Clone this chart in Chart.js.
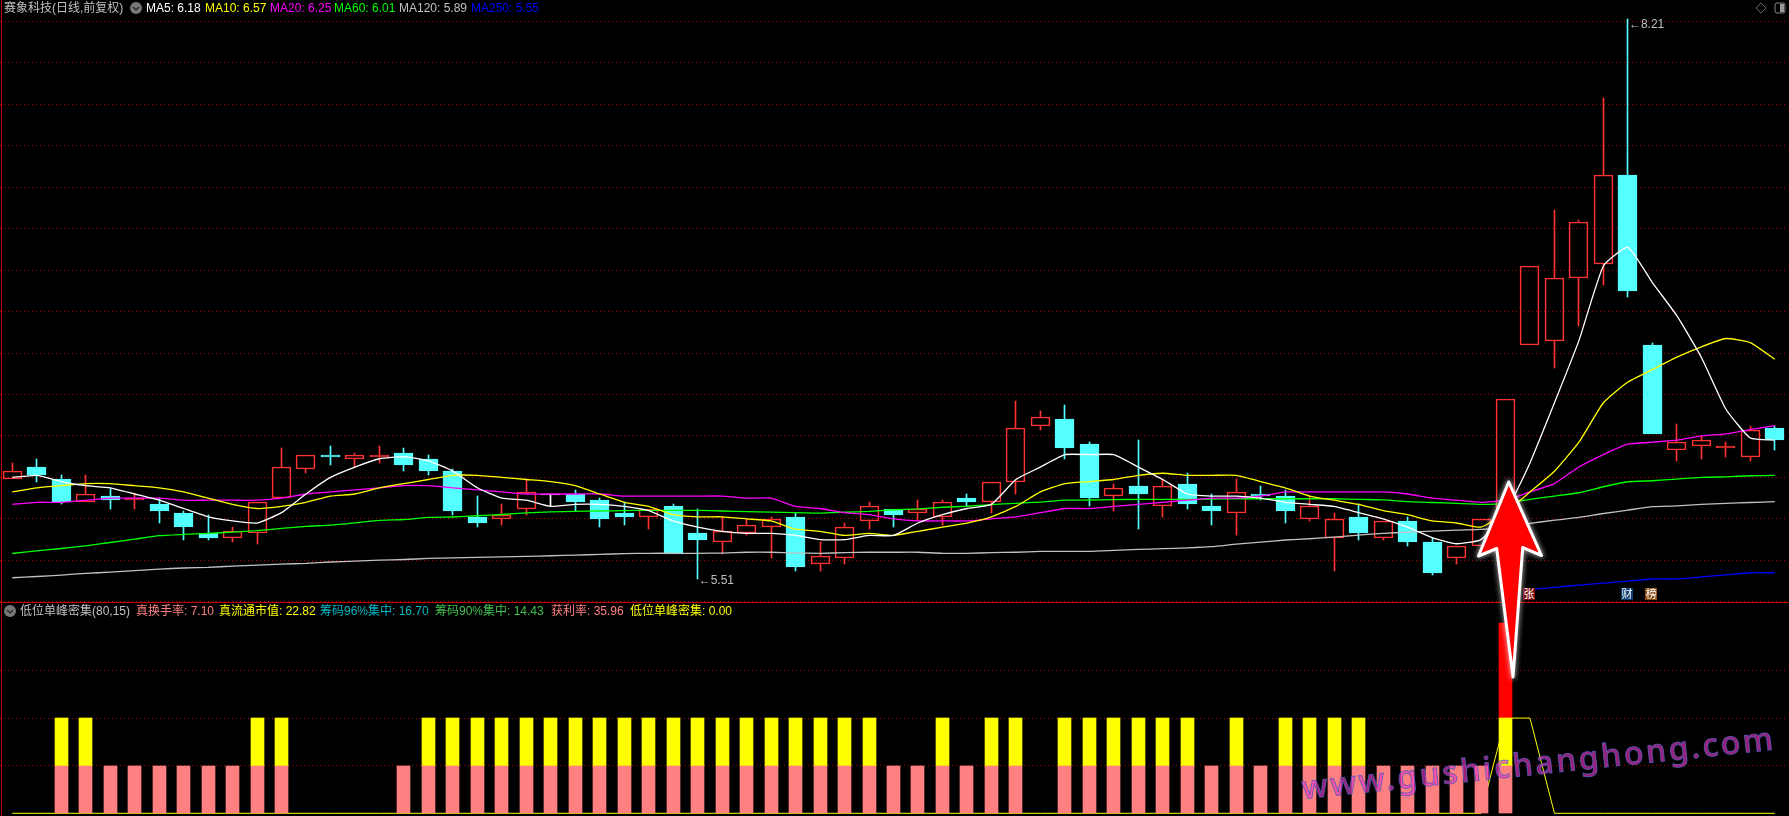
<!DOCTYPE html>
<html>
<head>
<meta charset="utf-8">
<title>赛象科技</title>
<script src="https://cdn.jsdelivr.net/npm/chart.js@4/dist/chart.umd.min.js"></script>
<style>
html, body { margin: 0; padding: 0; background: #000; width: 1789px; height: 816px; overflow: hidden; }
#stage { position: relative; width: 1789px; height: 816px; overflow: hidden; background: #000; font: 12px "Liberation Sans", "Noto Sans CJK SC", sans-serif; }
#priceCanvas { position: absolute; left: 0; top: 0; }
#signalCanvas { position: absolute; left: 0; top: 602px; }
.t { position: absolute; white-space: nowrap; line-height: 14px; height: 14px; }
.badge { position: absolute; width: 12px; height: 12px; line-height: 12px; font-size: 11px; text-align: center; color: #fff; }
.rule { position: absolute; background: #c00000; }
#overlay { position: absolute; left: 0; top: 0; pointer-events: none; }
#watermark { position: absolute; left: 1304px; top: 765px; font: 500 32px "Noto Sans", sans-serif; letter-spacing: 2.7px; white-space: nowrap;
    color: rgba(255, 50, 190, .62); -webkit-text-stroke: 1px rgba(85, 90, 190, .85);
    transform: rotate(-6deg); transform-origin: left bottom; }
</style>
</head>
<body>
<div id="stage">
    <canvas id="priceCanvas" width="1789" height="602"></canvas>
    <canvas id="signalCanvas" width="1789" height="214"></canvas>
    <div class="rule" style="left:1px;top:0;width:1px;height:816px"></div>
    <div class="rule" style="left:0;top:602px;width:1789px;height:1px"></div>

    <span class="t" style="left:4px;top:1px;color:#c0c0c0">赛象科技(日线,前复权)</span>
    <span class="t" style="left:146px;top:1px;color:#ffffff">MA5: 6.18</span>
    <span class="t" style="left:205px;top:1px;color:#ffff00">MA10: 6.57</span>
    <span class="t" style="left:270px;top:1px;color:#ff00ff">MA20: 6.25</span>
    <span class="t" style="left:334px;top:1px;color:#00ff00">MA60: 6.01</span>
    <span class="t" style="left:399px;top:1px;color:#c0c0c0">MA120: 5.89</span>
    <span class="t" style="left:471px;top:1px;color:#0000ff">MA250: 5.55</span>

    <span class="t" style="left:20px;top:604px;color:#c0c0c0">低位单峰密集(80,15)</span>
    <span class="t" style="left:136px;top:604px;color:#ff8080">真换手率: 7.10</span>
    <span class="t" style="left:219px;top:604px;color:#ffff00">真流通市值: 22.82</span>
    <span class="t" style="left:320px;top:604px;color:#00b8c8">筹码96%集中: 16.70</span>
    <span class="t" style="left:435px;top:604px;color:#40c050">筹码90%集中: 14.43</span>
    <span class="t" style="left:551px;top:604px;color:#ff8080">获利率: 35.96</span>
    <span class="t" style="left:630px;top:604px;color:#ffff00">低位单峰密集: 0.00</span>

    <span class="t" id="highMark" style="color:#c0c0c0"></span>
    <span class="t" id="lowMark" style="color:#c0c0c0"></span>
    <span class="badge" id="badgeZhang" style="background:#7a0808">张</span>
    <span class="badge" id="badgeCai" style="background:#0c3c70">财</span>
    <span class="badge" id="badgeBang" style="background:#8a4c10">榜</span>

    <svg id="overlay" width="1789" height="816">
        <defs>
            <filter id="glow" x="-30%" y="-30%" width="160%" height="160%">
                <feGaussianBlur stdDeviation="2.5"/>
            </filter>
        </defs>
        <circle cx="136" cy="8" r="6" fill="#777"/>
        <path d="M133 7 L136 10 L139 7" stroke="#222" stroke-width="1.2" fill="none"/>
        <circle cx="10" cy="611" r="6" fill="#777"/>
        <path d="M7 610 L10 613 L13 610" stroke="#222" stroke-width="1.2" fill="none"/>
        <path d="M1761 3 L1766 8 L1761 13 L1756 8 Z" stroke="#666" fill="none"/>
        <rect x="1775" y="3" width="10" height="10" rx="2" stroke="#888" fill="none"/>
        <rect x="1780" y="4" width="4" height="8" fill="#999"/>
        <polygon points="1508.7,482 1541.5,555.5 1522.7,547.5 1513,677 1496.7,548.5 1478.5,556" fill="#fff" stroke="#fff" stroke-width="5" stroke-linejoin="round" filter="url(#glow)" opacity=".55"/>
        <polygon points="1508.7,482 1541.5,555.5 1522.7,547.5 1513,677 1496.7,548.5 1478.5,556" fill="#ff0000" stroke="#ffffff" stroke-width="3" stroke-linejoin="round"/>
    </svg>

    <div id="watermark">www.gushichanghong.com</div>
</div>

<script>
// 日线 K 线
const opens = [
    5.99,6.05,5.99,5.88,5.91,5.89,5.87,5.83,5.73,5.71,
    5.73,5.90,6.04,6.11,6.09,6.10,6.12,6.09,6.03,5.81,
    5.80,5.85,5.92,5.92,5.89,5.83,5.81,5.86,5.73,5.69,
    5.73,5.76,5.81,5.58,5.61,5.79,5.85,5.83,5.81,5.90,
    5.88,5.98,6.25,6.28,6.16,5.91,5.96,5.86,5.97,5.86,
    5.83,5.92,5.91,5.80,5.71,5.81,5.71,5.79,5.69,5.61,
    5.67,5.80,6.64,6.66,6.96,7.03,7.46,6.64,6.13,6.15,
    6.14,6.10,6.24
];
const closes = [
    6.03,6.01,5.88,5.92,5.89,5.90,5.84,5.76,5.71,5.74,
    5.88,6.05,6.11,6.10,6.11,6.11,6.06,6.03,5.84,5.78,
    5.82,5.93,5.92,5.88,5.80,5.81,5.85,5.63,5.70,5.74,
    5.77,5.80,5.57,5.62,5.76,5.86,5.82,5.85,5.88,5.88,
    5.98,6.24,6.29,6.14,5.90,5.95,5.92,5.96,5.87,5.84,
    5.93,5.91,5.84,5.86,5.80,5.73,5.79,5.69,5.54,5.67,
    5.80,6.38,7.02,6.96,7.23,7.46,6.90,6.21,6.17,6.18,
    6.15,6.23,6.18
];
const highs = [
    6.07,6.09,6.01,6.01,5.95,5.92,5.90,5.84,5.82,5.76,
    5.88,6.14,6.11,6.15,6.12,6.15,6.14,6.11,6.04,5.91,
    5.87,5.99,5.92,5.94,5.90,5.88,5.85,5.87,5.85,5.81,
    5.80,5.81,5.83,5.69,5.78,5.88,5.85,5.89,5.89,5.92,
    5.98,6.37,6.32,6.35,6.17,5.97,6.18,5.99,6.02,5.92,
    5.99,5.96,5.94,5.91,5.83,5.87,5.79,5.81,5.71,5.67,
    5.80,6.38,7.02,7.29,7.24,7.83,8.21,6.65,6.26,6.20,
    6.17,6.25,6.25
];
const lows = [
    5.99,5.98,5.87,5.88,5.85,5.85,5.78,5.70,5.70,5.69,
    5.68,5.90,6.02,6.06,6.05,6.07,6.03,6.01,5.82,5.76,
    5.77,5.82,5.86,5.84,5.76,5.77,5.75,5.63,5.51,5.63,
    5.72,5.61,5.55,5.55,5.58,5.75,5.76,5.79,5.77,5.86,
    5.83,5.92,6.23,6.09,5.86,5.84,5.75,5.81,5.85,5.77,
    5.72,5.89,5.78,5.79,5.55,5.70,5.70,5.67,5.53,5.58,
    5.67,5.80,6.64,6.53,6.73,6.93,6.87,6.21,6.08,6.09,
    6.10,6.08,6.13
];

// 均线
const ma5 = [
    6.00,6.01,5.98,5.96,5.95,5.92,5.89,5.85,5.81,5.79,
    5.78,5.83,5.92,6.00,6.05,6.09,6.10,6.08,6.03,5.95,
    5.90,5.89,5.86,5.87,5.87,5.86,5.84,5.79,5.76,5.74,
    5.73,5.73,5.72,5.70,5.70,5.72,5.72,5.78,5.82,5.85,
    5.87,5.99,6.05,6.11,6.11,6.11,6.05,5.99,5.92,5.91,
    5.91,5.90,5.88,5.87,5.86,5.83,5.80,5.76,5.71,5.68,
    5.70,5.83,6.07,6.36,6.66,7.02,7.11,6.94,6.78,6.58,
    6.33,6.19,6.18
];
const ma10 = [
    5.93,5.95,5.96,5.97,5.97,5.96,5.95,5.93,5.90,5.87,
    5.85,5.86,5.88,5.91,5.92,5.95,5.97,5.99,6.01,6.01,
    6.00,5.99,5.98,5.96,5.92,5.88,5.86,5.82,5.81,5.81,
    5.80,5.79,5.75,5.74,5.72,5.73,5.72,5.74,5.76,5.78,
    5.81,5.86,5.93,5.97,5.98,5.99,6.01,6.02,6.01,6.01,
    6.01,5.98,5.95,5.91,5.89,5.87,5.84,5.82,5.79,5.78,
    5.76,5.83,5.93,6.03,6.17,6.36,6.46,6.52,6.58,6.63,
    6.67,6.65,6.57
];
const ma20 = [
    5.87,5.88,5.88,5.89,5.90,5.90,5.90,5.89,5.89,5.89,
    5.89,5.90,5.92,5.93,5.94,5.95,5.96,5.96,5.95,5.94,
    5.93,5.92,5.92,5.92,5.92,5.91,5.91,5.91,5.91,5.91,
    5.90,5.90,5.86,5.85,5.83,5.82,5.80,5.79,5.79,5.79,
    5.80,5.81,5.83,5.85,5.85,5.86,5.87,5.88,5.89,5.90,
    5.90,5.91,5.93,5.93,5.93,5.93,5.93,5.92,5.90,5.89,
    5.88,5.89,5.93,5.97,6.05,6.11,6.16,6.17,6.18,6.20,
    6.21,6.23,6.25
];
const ma60 = [
    5.633,5.646,5.657,5.670,5.686,5.702,5.719,5.725,5.730,5.736,
    5.743,5.754,5.764,5.770,5.781,5.793,5.797,5.807,5.809,5.815,
    5.821,5.829,5.834,5.836,5.838,5.840,5.841,5.841,5.841,5.838,
    5.835,5.833,5.830,5.828,5.832,5.836,5.844,5.848,5.856,5.861,
    5.869,5.875,5.881,5.890,5.891,5.893,5.894,5.894,5.894,5.895,
    5.897,5.897,5.897,5.897,5.897,5.894,5.892,5.883,5.879,5.875,
    5.870,5.875,5.894,5.910,5.926,5.955,5.979,5.984,5.992,6.000,
    6.003,6.008,6.010
];
const ma120 = [
    5.516,5.522,5.529,5.537,5.543,5.550,5.558,5.563,5.566,5.572,
    5.577,5.582,5.585,5.592,5.596,5.601,5.604,5.609,5.612,5.614,
    5.617,5.619,5.622,5.625,5.629,5.632,5.634,5.634,5.634,5.635,
    5.639,5.639,5.635,5.634,5.637,5.639,5.639,5.639,5.634,5.634,
    5.637,5.639,5.643,5.643,5.643,5.648,5.653,5.656,5.660,5.666,
    5.678,5.688,5.698,5.704,5.712,5.722,5.730,5.736,5.741,5.746,
    5.749,5.759,5.778,5.794,5.807,5.826,5.842,5.859,5.863,5.870,
    5.875,5.879,5.883
];
const ma250 = [
    null,null,null,null,null,null,null,null,null,null,
    null,null,null,null,null,null,null,null,null,null,
    null,null,null,null,null,null,null,null,null,null,
    null,null,null,null,null,null,null,null,null,null,
    null,null,null,null,null,null,null,null,null,null,
    null,null,null,null,null,null,null,null,null,null,
    null,null,5.46,5.47,5.48,5.49,5.50,5.51,5.51,5.52,
    5.53,5.54,5.54
];

// 副图 低位单峰密集
const pinkTop = [
    0,0,1,1,1,1,1,1,1,1,
    1,1,0,0,0,0,1,1,1,1,
    1,1,1,1,1,1,1,1,1,1,
    1,1,1,1,1,1,1,1,1,1,
    1,1,0,1,1,1,1,1,1,1,
    1,1,1,1,1,1,1,1,1,1,
    1,1,0,0,0,0,0,0,0,0,
    0,0,0
];
const yellowTop = [
    0,0,2,2,0,0,0,0,0,0,
    2,2,0,0,0,0,0,2,2,2,
    2,2,2,2,2,2,2,2,2,2,
    2,2,2,2,2,2,0,0,2,0,
    2,2,0,2,2,2,2,2,2,0,
    2,0,2,2,2,2,0,0,0,0,
    0,2,0,0,0,0,0,0,0,0,
    0,0,0
];
const redTop = [
    0,0,0,0,0,0,0,0,0,0,
    0,0,0,0,0,0,0,0,0,0,
    0,0,0,0,0,0,0,0,0,0,
    0,0,0,0,0,0,0,0,0,0,
    0,0,0,0,0,0,0,0,0,0,
    0,0,0,0,0,0,0,0,0,0,
    0,4,0,0,0,0,0,0,0,0,
    0,0,0
];
const peakLine = [
    0,0,0,0,0,0,0,0,0,0,
    0,0,0,0,0,0,0,0,0,0,
    0,0,0,0,0,0,0,0,0,0,
    0,0,0,0,0,0,0,0,0,0,
    0,0,0,0,0,0,0,0,0,0,
    0,0,0,0,0,0,0,0,0,0,
    0,2,2,0,0,0,0,0,0,0,
    0,0,0
];

const days = opens.map((v, i) => String(i + 1));

const RED = "#ff3232";
const CYAN = "#54ffff";
const GRID = "#a80000";

function candleColor(i) {
    if (closes[i] > opens[i]) return RED;
    if (closes[i] < opens[i]) return CYAN;
    return "#ffffff";
}

// keep thin bars crisp: the reference has no antialiasing
const snapBars = {
    id: "snapBars",
    afterDatasetsUpdate(chart) {
        chart.data.datasets.forEach((ds, di) => {
            if (ds.type === "line") return;
            chart.getDatasetMeta(di).data.forEach(el => {
                if (el.skip || isNaN(el.y)) return;
                el.x = Math.floor(el.x) + 0.5;
                el.y = Math.round(el.y);
                el.base = Math.round(el.base);
                if (el.base === el.y) el.base = el.y + 1;
            });
        });
    }
};

function maLine(values, color) {
    return {
        type: "line",
        data: values,
        borderColor: color,
        borderWidth: 1.3,
        pointRadius: 0,
        tension: 0.15,
        spanGaps: false,
        order: 1
    };
}

function barSet(values, color, width, order) {
    return {
        type: "bar",
        data: values,
        backgroundColor: color,
        barThickness: width,
        grouped: false,
        order: order
    };
}

function hiddenX() {
    return { display: false, offset: true, grid: { display: false } };
}

const upperWicks = highs.map((h, i) => {
    const top = Math.max(opens[i], closes[i]);
    return h > top ? [top, h] : null;
});
const lowerWicks = lows.map((l, i) => {
    const bottom = Math.min(opens[i], closes[i]);
    return l < bottom ? [l, bottom] : null;
});
const bodies = opens.map((o, i) => [o, closes[i]]);

const priceChart = new Chart(document.getElementById("priceCanvas"), {
    type: "bar",
    data: {
        labels: days,
        datasets: [
            maLine(ma5, "#ffffff"),
            maLine(ma10, "#ffff00"),
            maLine(ma20, "#ff00ff"),
            maLine(ma60, "#00ff00"),
            maLine(ma120, "#c0c0c0"),
            maLine(ma250, "#0000ff"),
            barSet(upperWicks, days.map((d, i) => candleColor(i)), 1, 3),
            barSet(lowerWicks, days.map((d, i) => candleColor(i)), 1, 3),
            {
                type: "bar",
                data: bodies,
                backgroundColor: days.map((d, i) => candleColor(i) === RED ? "rgba(0,0,0,0)" : candleColor(i)),
                borderColor: days.map((d, i) => candleColor(i)),
                borderWidth: 1,
                borderSkipped: false,
                barThickness: 19,
                grouped: false,
                order: 2
            }
        ]
    },
    plugins: [snapBars],
    options: {
        responsive: false,
        animation: false,
        events: [],
        layout: { padding: { left: 0, right: 2, top: 0, bottom: 0 } },
        plugins: { legend: { display: false }, tooltip: { enabled: false } },
        scales: {
            x: hiddenX(),
            y: {
                min: 5.399,
                max: 8.303,
                ticks: { display: false, stepSize: 0.2, includeBounds: false },
                grid: { color: GRID, drawTicks: false, lineWidth: 1 },
                border: { display: false, dash: [1, 3] }
            }
        }
    }
});

const signalChart = new Chart(document.getElementById("signalCanvas"), {
    type: "bar",
    data: {
        labels: days,
        datasets: [
            {
                type: "line",
                data: peakLine,
                borderColor: "#ffff00",
                borderWidth: 1,
                pointRadius: 0,
                order: 5
            },
            barSet(pinkTop.map(v => v ? [0, v] : null), "#ff8080", 13, 1),
            barSet(yellowTop.map(v => v ? [1, v] : null), "#ffff00", 13, 1),
            barSet(redTop.map(v => v ? [2, v] : null), "#ff0000", 13, 1)
        ]
    },
    plugins: [snapBars],
    options: {
        responsive: false,
        animation: false,
        events: [],
        layout: { padding: { left: 0, right: 2, top: 0, bottom: 0 } },
        plugins: { legend: { display: false }, tooltip: { enabled: false } },
        scales: {
            x: hiddenX(),
            y: {
                min: -0.057,
                max: 4.439,
                ticks: { display: false, stepSize: 1, includeBounds: false },
                grid: {
                    color: c => (c.tick.value >= 1 && c.tick.value <= 3) ? GRID : "rgba(0,0,0,0)",
                    drawTicks: false,
                    lineWidth: 1
                },
                border: { display: false, dash: [1, 3] }
            }
        }
    }
});

// text tied to the price scale
function place(id, left, top, text) {
    const el = document.getElementById(id);
    el.style.left = left + "px";
    el.style.top = top + "px";
    if (text) el.textContent = text;
}

const px = priceChart.scales.x;
const py = priceChart.scales.y;
const highIndex = highs.indexOf(Math.max(...highs));
const lowIndex = lows.indexOf(Math.min(...lows));
place("highMark", px.getPixelForValue(highIndex) + 1, py.getPixelForValue(highs[highIndex]) - 2, "←" + highs[highIndex].toFixed(2));
place("lowMark", px.getPixelForValue(lowIndex) + 1, py.getPixelForValue(lows[lowIndex]) - 6, "←" + lows[lowIndex].toFixed(2));
place("badgeZhang", px.getPixelForValue(62) - 7, 588);
place("badgeCai", px.getPixelForValue(66) - 7, 588);
place("badgeBang", px.getPixelForValue(67) - 7, 588);
</script>
</body>
</html>
